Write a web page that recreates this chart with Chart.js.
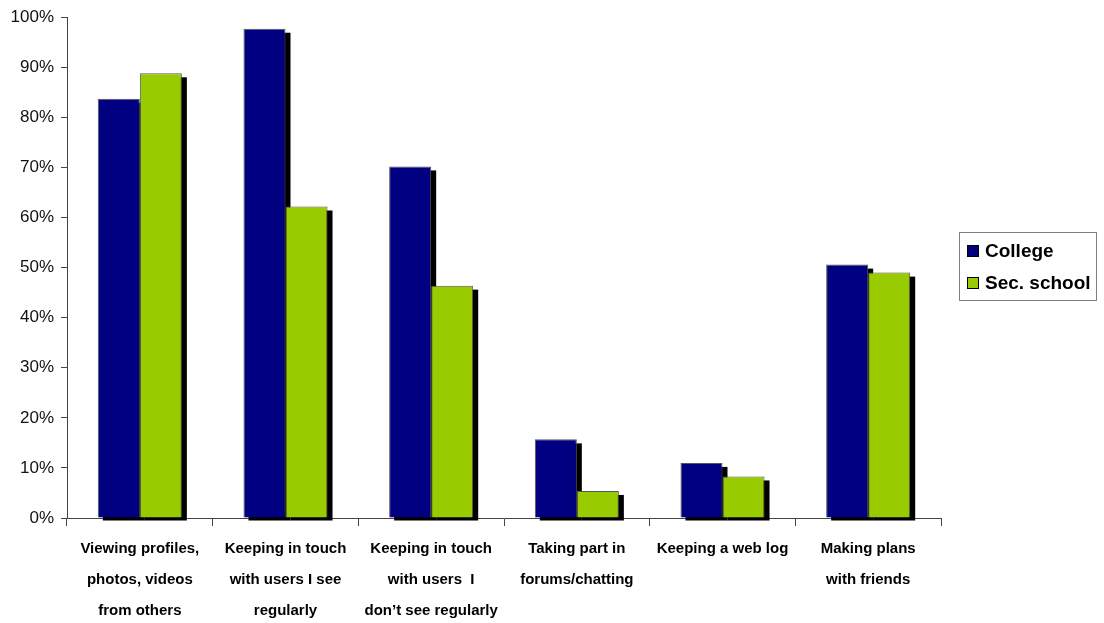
<!DOCTYPE html>
<html>
<head>
<meta charset="utf-8">
<script src="https://cdn.jsdelivr.net/npm/chart.js@4/dist/chart.umd.min.js"></script>
<style>
  html, body { margin: 0; padding: 0; background: #fff; }
  #wrap { width: 1104px; height: 623px; }
</style>
</head>
<body>
<div id="wrap"><canvas id="chart" width="1104" height="623"></canvas></div>
<script>
// ── Data ────────────────────────────────────────────────────
const categories = [
  ['Viewing profiles,', 'photos, videos', 'from others'],
  ['Keeping in touch', 'with users I see', 'regularly'],
  ['Keeping in touch', 'with users  I', 'don\u2019t see regularly'],
  ['Taking part in', 'forums/chatting'],
  ['Keeping a web log'],
  ['Making plans', 'with friends'],
];
const seriesNames  = ['College', 'Sec. school'];
const collegeVals  = [83.7, 97.7, 70.2, 15.7, 11.0, 50.6];
const secSchoolVals = [88.8, 62.2, 46.4, 5.4, 8.3, 49.0];
const yTicks = [0, 10, 20, 30, 40, 50, 60, 70, 80, 90, 100];

const NAVY  = '#000080';
const GREEN = '#99cc00';

// black drop shadow behind every bar, painted from the bar elements
const barShadow = {
  id: 'barShadow',
  beforeDatasetsDraw(chart) {
    const ctx = chart.ctx;
    ctx.save();
    ctx.fillStyle = '#000';
    chart.data.datasets.forEach((ds, i) => {
      chart.getDatasetMeta(i).data.forEach(bar => {
        const { x, y, base, width } = bar.getProps(['x', 'y', 'base', 'width'], true);
        ctx.fillRect(x - width / 2 + 5, y + 4, width, base - y - 1);
      });
    });
    ctx.restore();
  },
};

// boxed legend on the right
const boxLegend = {
  id: 'boxLegend',
  afterDraw(chart) {
    const ctx = chart.ctx;
    const x = 959, y = 232, w = 137, h = 68;
    ctx.save();
    ctx.strokeStyle = '#808080';
    ctx.lineWidth = 1;
    ctx.strokeRect(x + 0.5, y + 0.5, w, h);
    ctx.font = 'bold 19px "Liberation Sans", Arial, sans-serif';
    ctx.textBaseline = 'middle';
    chart.data.datasets.forEach((ds, i) => {
      const cy = y + 19 + i * 32;
      ctx.fillStyle = ds.backgroundColor;
      ctx.fillRect(967, cy - 6, 12, 12);
      ctx.strokeStyle = '#000';
      ctx.strokeRect(967.5, cy - 5.5, 11, 11);
      ctx.fillStyle = '#000';
      ctx.fillText(ds.label, 985, cy + 1);
    });
    ctx.restore();
  },
};

new Chart(document.getElementById('chart'), {
  type: 'bar',
  data: {
    labels: categories,
    datasets: [
      { label: seriesNames[0], data: collegeVals,   backgroundColor: NAVY },
      { label: seriesNames[1], data: secSchoolVals, backgroundColor: GREEN },
    ],
  },
  options: {
    responsive: false,
    animation: false,
    devicePixelRatio: 1,
    layout: { padding: { top: 15, right: 163, left: 0, bottom: 0 } },
    datasets: {
      bar: {
        categoryPercentage: 0.577,
        barPercentage: 1,
        borderWidth: 1,
        borderColor: '#555',
        clip: false,
      },
    },
    plugins: {
      legend:  { display: false },
      tooltip: { enabled: false },
    },
    scales: {
      x: {
        offset: true,
        grid: {
          offset: true,
          drawOnChartArea: false,
          tickLength: 8,
          color: '#444',
        },
        border: { color: '#444', width: 1 },
        ticks: {
          color: '#000',
          padding: 7,
          maxRotation: 0,
          autoSkip: false,
          font: { family: '"Liberation Sans", Arial, sans-serif', size: 15, weight: 'bold', lineHeight: 2.07 },
        },
        afterFit(scale) { scale.height = 105; },
      },
      y: {
        min: 0,
        max: 100,
        afterBuildTicks(scale) { scale.ticks = yTicks.map(v => ({ value: v })); },
        grid: {
          drawOnChartArea: false,
          tickLength: 6,
          color: '#444',
        },
        border: { color: '#444', width: 1 },
        ticks: {
          color: '#111',
          padding: 7,
          font: { family: '"Liberation Sans", Arial, sans-serif', size: 17 },
          callback: v => v + '%',
        },
        afterFit(scale) { scale.width = 67; },
      },
    },
  },
  plugins: [barShadow, boxLegend],
});
</script>
</body>
</html>
